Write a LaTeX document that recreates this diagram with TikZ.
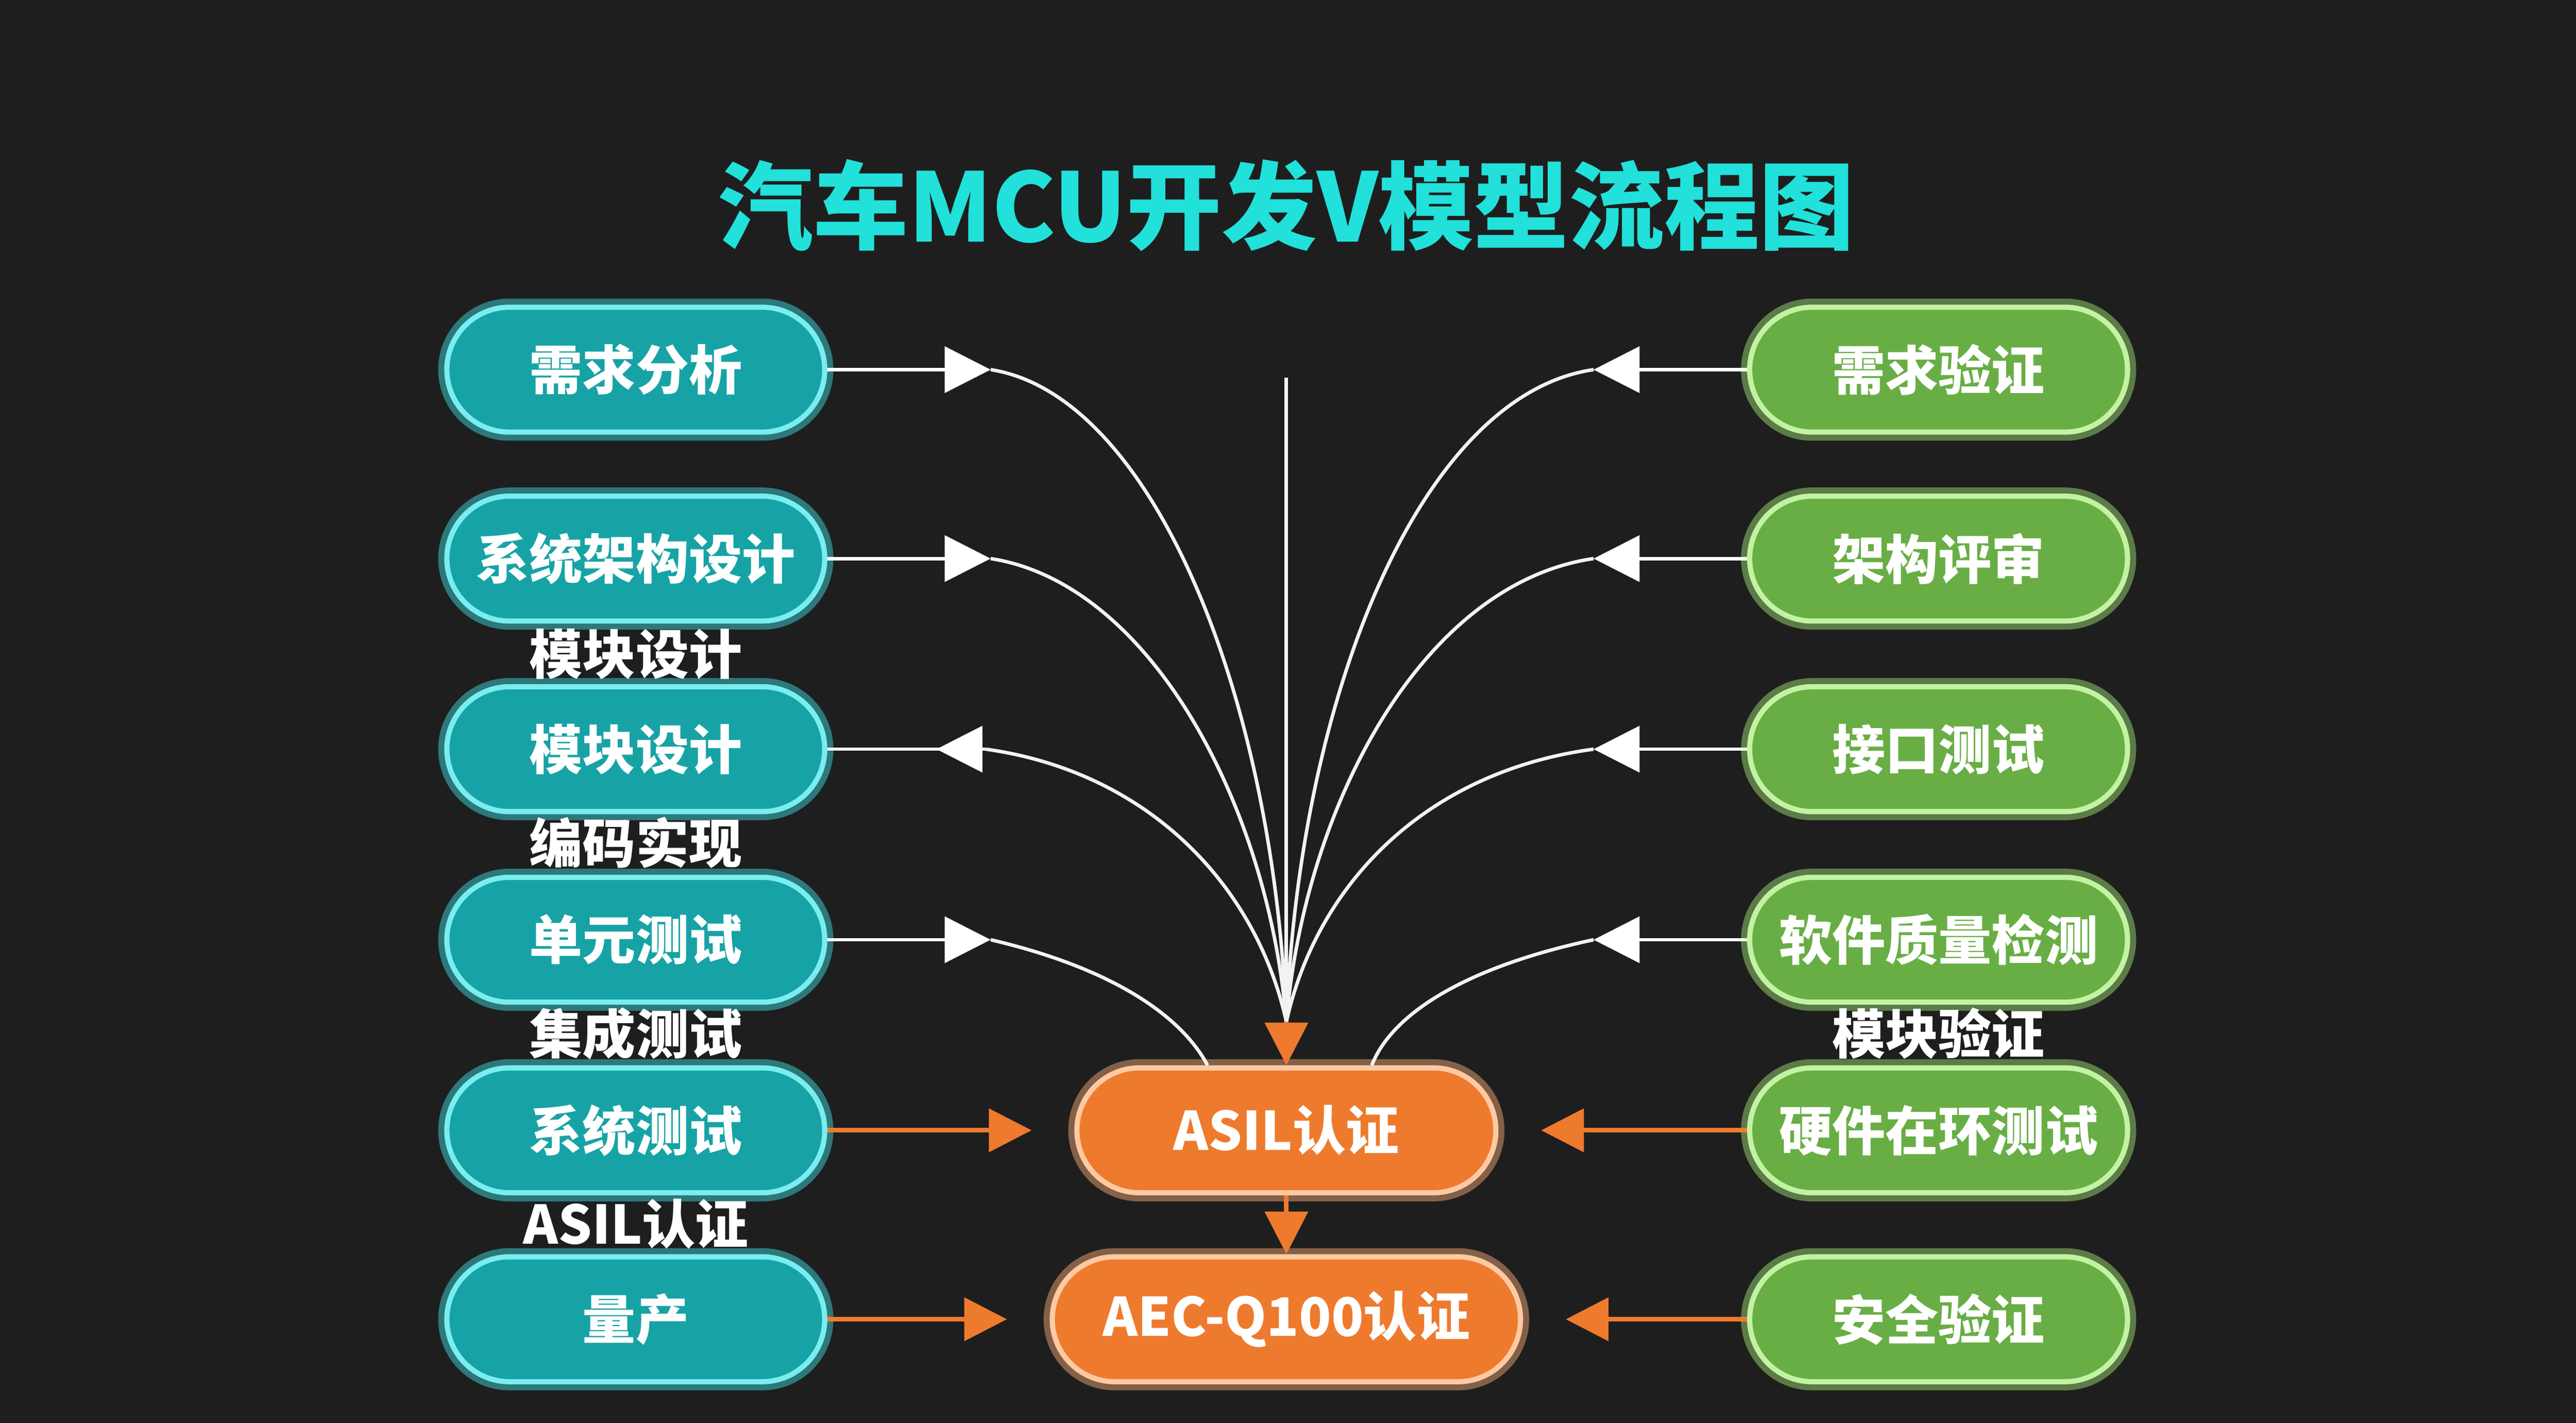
\documentclass[tikz,border=0pt]{standalone}
\usepackage{fontspec}
\setmainfont{Noto Sans CJK SC}
\usetikzlibrary{arrows.meta}
\definecolor{bgdark}{HTML}{1E1E1E}
\definecolor{tealfill}{HTML}{17A3A6}
\definecolor{tealglow}{HTML}{3FE6EA}
\definecolor{greenfill}{HTML}{68AE45}
\definecolor{greenglow}{HTML}{A8EE7A}
\definecolor{orangefill}{HTML}{EE7A2E}
\definecolor{orangeglow}{HTML}{FFB27A}
\definecolor{titlecyan}{HTML}{22E0DA}
\tikzset{
    stage/.style={rounded corners=3.8mm, minimum width=2.3cm, minimum height=0.76cm, text=white,
        font=\fontsize{9.2}{10}\selectfont\bfseries, line width=0.9pt},
    leftbox/.style={stage, fill=tealfill, draw=tealglow!70!white,
        preaction={draw=tealglow, line width=3pt, opacity=0.45}},
    rightbox/.style={stage, fill=greenfill, draw=greenglow!70!white,
        preaction={draw=greenglow, line width=3pt, opacity=0.45}},
    certbox/.style={stage, fill=orangefill, draw=orangeglow!70!white,
        preaction={draw=orangeglow, line width=3pt, opacity=0.45}},
    steplabel/.style={text=white, font=\fontsize{9.2}{10}\selectfont\bfseries},
    wline/.style={draw=white!90!gray, line width=0.6pt},
    tri/.style={-{Triangle[length=2.8mm,width=2.8mm]}},
    olink/.style={draw=orangefill, line width=0.8pt, -{Triangle[length=2.6mm,width=2.6mm]}},
    ogap/.style={olink, shorten >=2.6mm},
}
\begin{document}
\begin{tikzpicture}
    \fill[bgdark] (0,0) rectangle (15.68,-8.66);
    \useasboundingbox (0,0) rectangle (15.68,-8.66);

    \node[text=titlecyan, font=\fontsize{16.5}{18}\selectfont\bfseries] at (7.83,-1.25) (title) {汽车MCU开发V模型流程图};

    % left column
    \node[leftbox] at (3.87,-2.25) (L1) {需求分析};
    \node[leftbox] at (3.87,-3.40) (L2) {系统架构设计};
    \node[leftbox] at (3.87,-4.56) (L3) {模块设计};
    \node[leftbox] at (3.87,-5.72) (L4) {单元测试};
    \node[leftbox] at (3.87,-6.88) (L5) {系统测试};
    \node[leftbox] at (3.87,-8.03) (L6) {量产};
    \node[steplabel] at (3.87,-3.98) (LB1) {模块设计};
    \node[steplabel] at (3.87,-5.13) (LB2) {编码实现};
    \node[steplabel] at (3.87,-6.29) (LB3) {集成测试};
    \node[steplabel] at (3.87,-7.45) (LB4) {ASIL认证};

    % right column
    \node[rightbox] at (11.80,-2.25) (R1) {需求验证};
    \node[rightbox] at (11.80,-3.40) (R2) {架构评审};
    \node[rightbox] at (11.80,-4.56) (R3) {接口测试};
    \node[rightbox] at (11.80,-5.72) (R4) {软件质量检测};
    \node[rightbox] at (11.80,-6.88) (R5) {硬件在环测试};
    \node[rightbox] at (11.80,-8.03) (R6) {安全验证};
    \node[steplabel] at (11.80,-6.29) (RB1) {模块验证};

    % centre
    \node[certbox, minimum width=2.55cm] at (7.83,-6.88) (asil) {ASIL认证};
    \node[certbox, minimum width=2.85cm] at (7.83,-8.03) (aec) {AEC-Q100认证};

    \coordinate (hub) at (7.83,-6.22);
    \coordinate (top) at (7.83,-2.30);
    \coordinate (L1t) at (6.03,-2.25);
    \coordinate (L2t) at (6.03,-3.40);
    \coordinate (L3t) at (6.00,-4.56);
    \coordinate (L4t) at (6.03,-5.72);
    \coordinate (R1t) at (9.70,-2.25);
    \coordinate (R2t) at (9.70,-3.40);
    \coordinate (R3t) at (9.70,-4.56);
    \coordinate (R4t) at (9.70,-5.72);

    % feed lines with heads
    \draw[wline, tri, white] (L1) -- (L1t);
    \draw[wline, tri, white] (L2) -- (L2t);
    \draw[wline] (L3) -- (L3t);
    \draw[wline, tri, white] (L3t) -- ++(-0.3,0);
    \draw[wline, tri, white] (L4) -- (L4t);
    \draw[wline, tri, white] (R1) -- (R1t);
    \draw[wline, tri, white] (R2) -- (R2t);
    \draw[wline, tri, white] (R3) -- (R3t);
    \draw[wline, tri, white] (R4) -- (R4t);

    % curves into the hub
    \draw[wline] (L1t) .. controls (7.0,-2.4) and (7.75,-4.2) .. (hub);
    \draw[wline] (L2t) .. controls (7.0,-3.55) and (7.72,-4.9) .. (hub);
    \draw[wline] (L3t) .. controls (7.0,-4.7) and (7.65,-5.4) .. (hub);
    \draw[wline] (L4t) .. controls (6.8,-5.9) and (7.2,-6.2) .. (asil.north -| 7.35,0);
    \draw[wline] (R1t) .. controls (8.66,-2.4) and (7.91,-4.2) .. (hub);
    \draw[wline] (R2t) .. controls (8.66,-3.55) and (7.94,-4.9) .. (hub);
    \draw[wline] (R3t) .. controls (8.66,-4.7) and (8.01,-5.4) .. (hub);
    \draw[wline] (R4t) .. controls (8.86,-5.9) and (8.46,-6.2) .. (asil.north -| 8.35,0);
    \draw[wline] (top) -- (hub);
    \draw[olink] (hub) -- (asil);

    % orange links
    \draw[ogap] (L5) -- (asil);
    \draw[ogap] (L6) -- (aec);
    \draw[ogap] (R5) -- (asil);
    \draw[ogap] (R6) -- (aec);
    \draw[olink] (asil) -- (aec);
\end{tikzpicture}
\end{document}
